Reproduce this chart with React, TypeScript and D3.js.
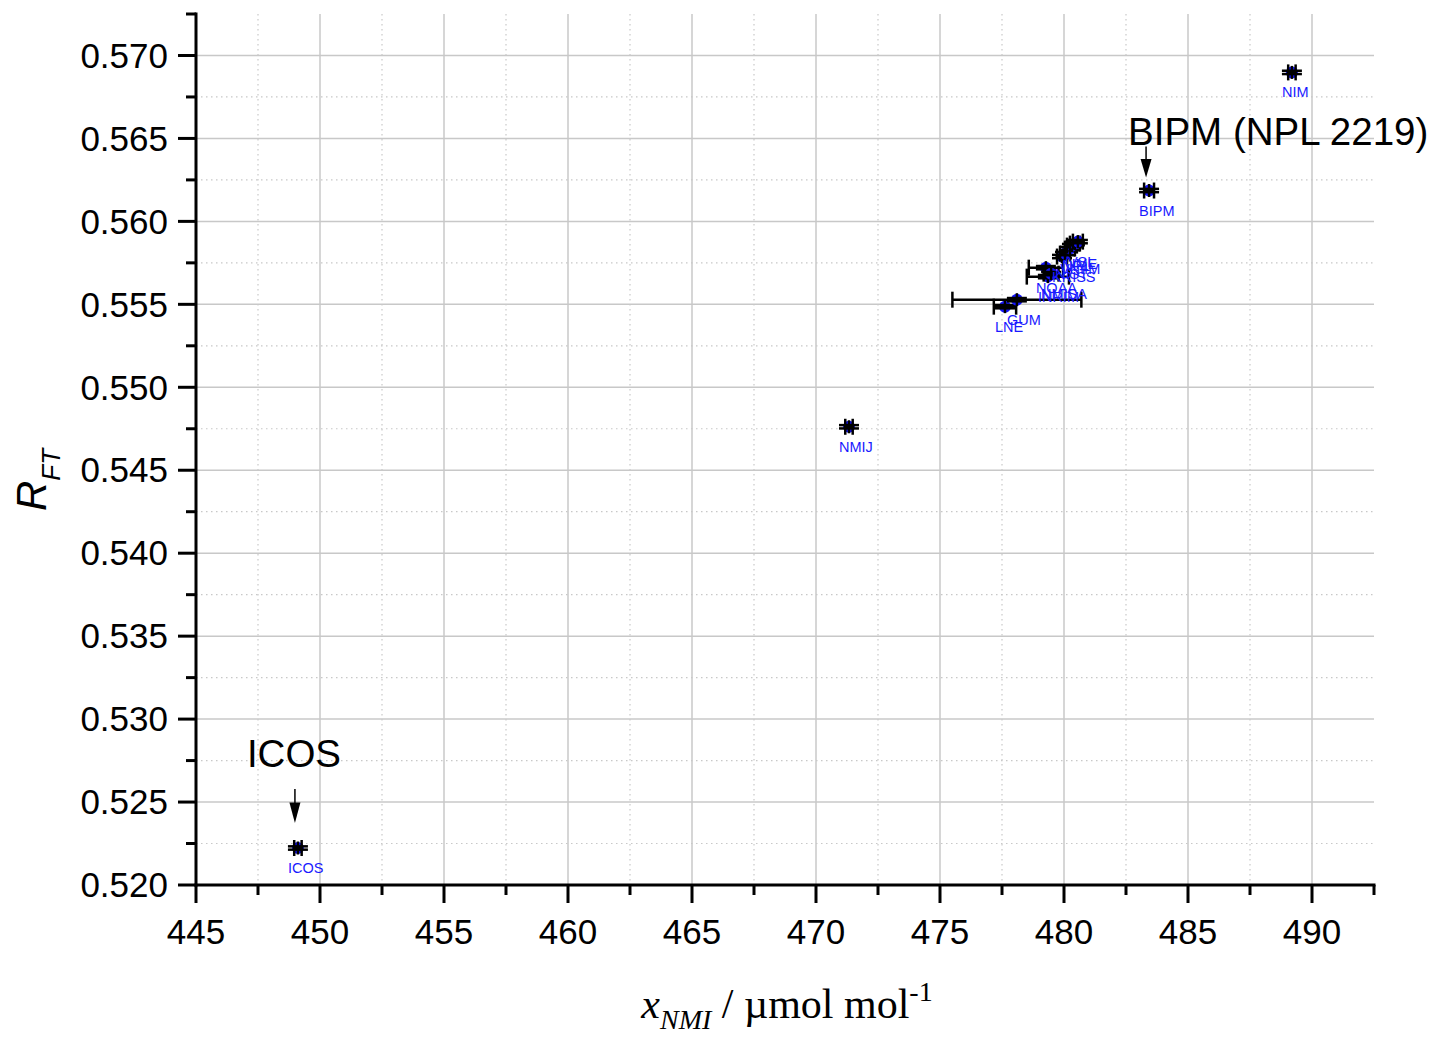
import React from "react";
import * as d3 from "d3";

const labs = ["ICOS", "NMIJ", "LNE", "GUM", "NOAA", "INRIM", "NMISA", "KRISS", "NIST", "VNIIM", "NPL", "UME", "VSL", "BIPM", "NIM"];
const xVals = [449.11, 471.33, 477.62, 478.1, 479.27, 479.35, 479.48, 479.92, 480.04, 480.24, 480.32, 480.44, 480.56, 483.43, 489.19];
const yVals = [0.52223, 0.54762, 0.55486, 0.55528, 0.55721, 0.55667, 0.55685, 0.55788, 0.55806, 0.55836, 0.55854, 0.55866, 0.55878, 0.56186, 0.56898];
const xErrs = [0.15, 0.15, 0.45, 2.6, 0.69, 0.85, 0.3, 0.2, 0.2, 0.2, 0.2, 0.2, 0.2, 0.2, 0.15];
const yErrs = [0.0001, 0.0001, 0.0001, 0.0001, 0.0001, 0.0001, 0.0001, 0.0001, 0.0001, 0.0001, 0.0001, 0.0001, 0.0001, 0.0001, 0.0001];

const xMajor = [445, 450, 455, 460, 465, 470, 475, 480, 485, 490];
const xMinor = [447.5, 452.5, 457.5, 462.5, 467.5, 472.5, 477.5, 482.5, 487.5, 492.5];
const yMajor = [0.52, 0.525, 0.53, 0.535, 0.54, 0.545, 0.55, 0.555, 0.56, 0.565, 0.57];
const yMinor = [0.5225, 0.5275, 0.5325, 0.5375, 0.5425, 0.5475, 0.5525, 0.5575, 0.5625, 0.5675, 0.5725];

const annotations = [
  { lab: "ICOS", text: "ICOS", arrowTop: -59, arrowTip: -25, textDx: -51, textDy: -81 },
  { lab: "BIPM", text: "BIPM (NPL 2219)", arrowTop: -44, arrowTip: -13, textDx: -21, textDy: -46 },
];

const W = 1433, H = 1040;
const L = 196, R = 1374, T = 14, B = 885;

export default function App() {
  const x = d3.scaleLinear().domain([445, 492.5]).range([L, R]);
  const y = d3.scaleLinear().domain([0.52, 0.5725]).range([B, T]);
  const fmt = d3.format(".3f");
  const sans = "'Liberation Sans', Arial, sans-serif";
  const serif = "'Liberation Serif', 'Times New Roman', serif";
  const grid = "#c8c8c8";
  const capX = 8, capY = 10;

  const pts = labs.map((l, i) => ({ l, x: xVals[i], y: yVals[i], xe: xErrs[i], ye: yErrs[i] }));

  return (
    <svg width={W} height={H} style={{ position: "absolute", left: 0, top: 0, background: "#fff" }}>
      <rect x={0} y={0} width={W} height={H} fill="#fff" />
      {/* grid */}
      {xMajor.filter((v) => v !== 445).map((v) => (
        <line key={"gx" + v} x1={x(v)} x2={x(v)} y1={T} y2={B} stroke={grid} strokeWidth={1.5} />
      ))}
      {xMinor.filter((v) => v < 492.5).map((v) => (
        <line key={"gmx" + v} x1={x(v)} x2={x(v)} y1={T} y2={B} stroke={grid} strokeWidth={1.2} strokeDasharray="1.5,3.5" />
      ))}
      {yMajor.filter((v) => v !== 0.52).map((v) => (
        <line key={"gy" + v} x1={L} x2={R} y1={y(v)} y2={y(v)} stroke={grid} strokeWidth={1.5} />
      ))}
      {yMinor.filter((v) => v < 0.5725).map((v) => (
        <line key={"gmy" + v} x1={L} x2={R} y1={y(v)} y2={y(v)} stroke={grid} strokeWidth={1.2} strokeDasharray="1.5,3.5" />
      ))}

      {/* axes */}
      <line x1={L} x2={L} y1={T - 1.5} y2={B + 1.5} stroke="#000" strokeWidth={3} />
      <line x1={L - 1.5} x2={R + 1.5} y1={B} y2={B} stroke="#000" strokeWidth={3} />
      {yMajor.map((v) => (
        <line key={"ty" + v} x1={L - 18} x2={L} y1={y(v)} y2={y(v)} stroke="#000" strokeWidth={3} />
      ))}
      {yMinor.map((v) => (
        <line key={"tmy" + v} x1={L - 10} x2={L} y1={y(v)} y2={y(v)} stroke="#000" strokeWidth={3} />
      ))}
      {xMajor.map((v) => (
        <line key={"tx" + v} x1={x(v)} x2={x(v)} y1={B} y2={B + 18} stroke="#000" strokeWidth={3} />
      ))}
      {xMinor.map((v) => (
        <line key={"tmx" + v} x1={x(v)} x2={x(v)} y1={B} y2={B + 10} stroke="#000" strokeWidth={3} />
      ))}
      {yMajor.map((v) => (
        <text key={"ly" + v} x={168} y={y(v)} dy="0.35em" textAnchor="end" fontFamily={sans} fontSize={35} fill="#000">
          {fmt(v)}
        </text>
      ))}
      {xMajor.map((v) => (
        <text key={"lx" + v} x={x(v)} y={944} textAnchor="middle" fontFamily={sans} fontSize={35} fill="#000">
          {v}
        </text>
      ))}

      {/* axis titles */}
      <text transform="translate(46,480) rotate(-90)" textAnchor="middle" fontFamily={sans} fill="#000">
        <tspan fontSize={42} fontStyle="italic">R</tspan>
        <tspan fontSize={26} fontStyle="italic" dy={14}>FT</tspan>
      </text>
      <text x={787} y={1018} textAnchor="middle" fontFamily={serif} fill="#000" fontSize={42}>
        <tspan fontStyle="italic">x</tspan>
        <tspan fontStyle="italic" fontSize={28} dy={11}>NMI</tspan>
        <tspan dy={-11}> / µmol mol</tspan>
        <tspan fontSize={28} dy={-17}>-1</tspan>
      </text>

      {/* data points */}
      {pts.map((p) => {
        const cx = x(p.x), cy = y(p.y);
        const x0 = x(p.x - p.xe), x1 = x(p.x + p.xe);
        const y0 = y(p.y - p.ye), y1 = y(p.y + p.ye);
        return (
          <g key={"p" + p.l}>
            <circle cx={cx} cy={cy} r={6} fill="#1414ff" />
            <g stroke="#000" strokeWidth={2.5}>
              <line x1={x0} x2={x1} y1={cy} y2={cy} />
              <line x1={x0} x2={x0} y1={cy - capX} y2={cy + capX} />
              <line x1={x1} x2={x1} y1={cy - capX} y2={cy + capX} />
              <line x1={cx} x2={cx} y1={y0} y2={y1} />
              <line x1={cx - capY} x2={cx + capY} y1={y0} y2={y0} />
              <line x1={cx - capY} x2={cx + capY} y1={y1} y2={y1} />
              <line x1={cx} x2={cx} y1={cy - 6.5} y2={cy + 6.5} />
            </g>
          </g>
        );
      })}
      {pts.map((p) => (
        <text key={"t" + p.l} x={x(p.x) - 10} y={y(p.y) + 25} fontFamily={sans} fontSize={14.5} fill="#1a1aff">
          {p.l}
        </text>
      ))}

      {/* annotations */}
      {annotations.map((a) => {
        const i = labs.indexOf(a.lab);
        const cx = x(xVals[i]);
        const py = y(yVals[i]);
        const px = cx - 3;
        const tip = py + a.arrowTip;
        const top = py + a.arrowTop;
        const headLen = Math.min(22, (tip - top) * 0.6);
        return (
          <g key={"a" + a.lab}>
            <line x1={px} x2={px} y1={top} y2={tip - headLen + 2} stroke="#000" strokeWidth={1.5} />
            <path d={`M${px - 5.5},${tip - headLen} L${px + 5.5},${tip - headLen} L${px},${tip} Z`} fill="#000" />
            <text x={cx + a.textDx} y={py + a.textDy} fontFamily={sans} fontSize={38.5} fill="#000">
              {a.text}
            </text>
          </g>
        );
      })}
    </svg>
  );
}
